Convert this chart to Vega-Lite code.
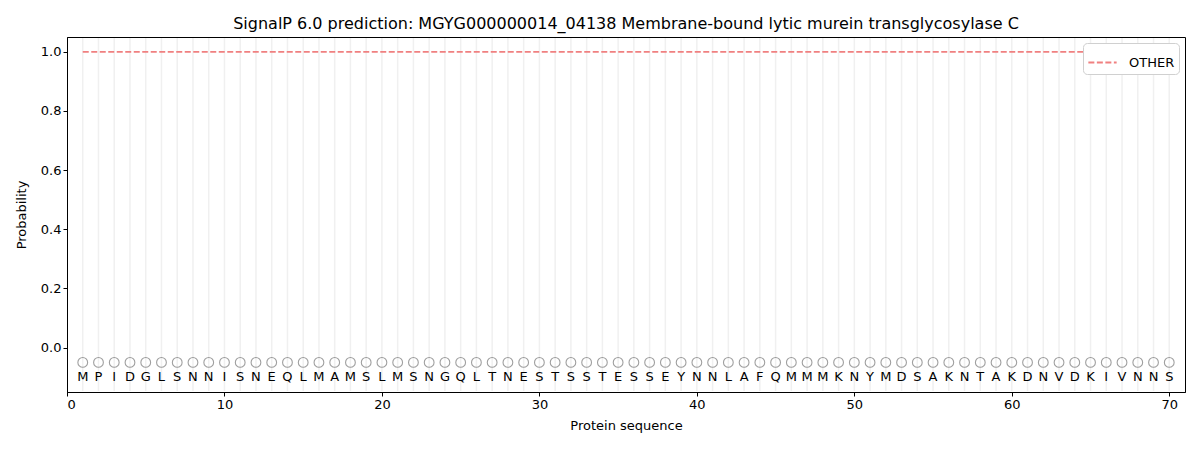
{
  "$schema": "https://vega.github.io/schema/vega-lite/v6.json",
  "autosize": "none",
  "width": 1118,
  "height": 355,
  "padding": {"left": 67, "top": 37, "right": 15, "bottom": 58},
  "title": {
    "text": "SignalP 6.0 prediction: MGYG000000014_04138 Membrane-bound lytic murein transglycosylase C",
    "font": "DejaVu Sans",
    "fontSize": 16,
    "fontWeight": "normal",
    "color": "black",
    "offset": 5
  },
  "data": {
    "values": [
      {"pos": 1, "aa": "M", "other": 1.0}, {"pos": 2, "aa": "P", "other": 1.0},
      {"pos": 3, "aa": "I", "other": 1.0}, {"pos": 4, "aa": "D", "other": 1.0},
      {"pos": 5, "aa": "G", "other": 1.0}, {"pos": 6, "aa": "L", "other": 1.0},
      {"pos": 7, "aa": "S", "other": 1.0}, {"pos": 8, "aa": "N", "other": 1.0},
      {"pos": 9, "aa": "N", "other": 1.0}, {"pos": 10, "aa": "I", "other": 1.0},
      {"pos": 11, "aa": "S", "other": 1.0}, {"pos": 12, "aa": "N", "other": 1.0},
      {"pos": 13, "aa": "E", "other": 1.0}, {"pos": 14, "aa": "Q", "other": 1.0},
      {"pos": 15, "aa": "L", "other": 1.0}, {"pos": 16, "aa": "M", "other": 1.0},
      {"pos": 17, "aa": "A", "other": 1.0}, {"pos": 18, "aa": "M", "other": 1.0},
      {"pos": 19, "aa": "S", "other": 1.0}, {"pos": 20, "aa": "L", "other": 1.0},
      {"pos": 21, "aa": "M", "other": 1.0}, {"pos": 22, "aa": "S", "other": 1.0},
      {"pos": 23, "aa": "N", "other": 1.0}, {"pos": 24, "aa": "G", "other": 1.0},
      {"pos": 25, "aa": "Q", "other": 1.0}, {"pos": 26, "aa": "L", "other": 1.0},
      {"pos": 27, "aa": "T", "other": 1.0}, {"pos": 28, "aa": "N", "other": 1.0},
      {"pos": 29, "aa": "E", "other": 1.0}, {"pos": 30, "aa": "S", "other": 1.0},
      {"pos": 31, "aa": "T", "other": 1.0}, {"pos": 32, "aa": "S", "other": 1.0},
      {"pos": 33, "aa": "S", "other": 1.0}, {"pos": 34, "aa": "T", "other": 1.0},
      {"pos": 35, "aa": "E", "other": 1.0}, {"pos": 36, "aa": "S", "other": 1.0},
      {"pos": 37, "aa": "S", "other": 1.0}, {"pos": 38, "aa": "E", "other": 1.0},
      {"pos": 39, "aa": "Y", "other": 1.0}, {"pos": 40, "aa": "N", "other": 1.0},
      {"pos": 41, "aa": "N", "other": 1.0}, {"pos": 42, "aa": "L", "other": 1.0},
      {"pos": 43, "aa": "A", "other": 1.0}, {"pos": 44, "aa": "F", "other": 1.0},
      {"pos": 45, "aa": "Q", "other": 1.0}, {"pos": 46, "aa": "M", "other": 1.0},
      {"pos": 47, "aa": "M", "other": 1.0}, {"pos": 48, "aa": "M", "other": 1.0},
      {"pos": 49, "aa": "K", "other": 1.0}, {"pos": 50, "aa": "N", "other": 1.0},
      {"pos": 51, "aa": "Y", "other": 1.0}, {"pos": 52, "aa": "M", "other": 1.0},
      {"pos": 53, "aa": "D", "other": 1.0}, {"pos": 54, "aa": "S", "other": 1.0},
      {"pos": 55, "aa": "A", "other": 1.0}, {"pos": 56, "aa": "K", "other": 1.0},
      {"pos": 57, "aa": "N", "other": 1.0}, {"pos": 58, "aa": "T", "other": 1.0},
      {"pos": 59, "aa": "A", "other": 1.0}, {"pos": 60, "aa": "K", "other": 1.0},
      {"pos": 61, "aa": "D", "other": 1.0}, {"pos": 62, "aa": "N", "other": 1.0},
      {"pos": 63, "aa": "V", "other": 1.0}, {"pos": 64, "aa": "D", "other": 1.0},
      {"pos": 65, "aa": "K", "other": 1.0}, {"pos": 66, "aa": "I", "other": 1.0},
      {"pos": 67, "aa": "V", "other": 1.0}, {"pos": 68, "aa": "N", "other": 1.0},
      {"pos": 69, "aa": "N", "other": 1.0}, {"pos": 70, "aa": "S", "other": 1.0}
    ]
  },
  "encoding": {
    "x": {
      "field": "pos",
      "type": "quantitative",
      "scale": {"domain": [0, 71], "nice": false, "zero": false},
      "axis": {"values": [0, 10, 20, 30, 40, 50, 60, 70], "title": "Protein sequence", "grid": false, "titlePadding": 8}
    }
  },
  "layer": [
    {
      "mark": {"type": "rule", "color": "#f0f0f0", "strokeWidth": 1.5},
      "encoding": {
        "y": {"datum": -0.147, "type": "quantitative"},
        "y2": {"datum": 1.047}
      }
    },
    {
      "mark": {"type": "line", "strokeDash": [6, 2.5], "strokeWidth": 1.8},
      "encoding": {
        "y": {
          "field": "other",
          "type": "quantitative",
          "scale": {"domain": [-0.15, 1.05], "nice": false, "zero": false},
          "axis": {"values": [0, 0.2, 0.4, 0.6, 0.8, 1.0], "format": ".1f", "title": "Probability", "grid": false, "titlePadding": 12}
        },
        "color": {
          "datum": "OTHER",
          "type": "nominal",
          "scale": {"range": ["#f08080"]},
          "legend": {"title": null, "orient": "top-right", "symbolDash": [6, 2.5], "symbolStrokeWidth": 1.8}
        }
      }
    },
    {
      "mark": {"type": "point", "shape": "circle", "filled": false, "color": "#777777", "size": 95, "strokeWidth": 1.1},
      "encoding": {"y": {"datum": -0.05, "type": "quantitative"}}
    },
    {
      "mark": {"type": "text", "font": "DejaVu Sans", "fontSize": 13, "color": "black", "baseline": "middle"},
      "encoding": {"y": {"datum": -0.1, "type": "quantitative"}, "text": {"field": "aa"}}
    }
  ],
  "config": {
    "view": {"stroke": "black", "strokeWidth": 1},
    "axis": {
      "labelFont": "DejaVu Sans",
      "titleFont": "DejaVu Sans",
      "labelFontSize": 13,
      "titleFontSize": 13,
      "titleFontWeight": "normal",
      "labelColor": "black",
      "titleColor": "black",
      "domainColor": "black",
      "tickColor": "black",
      "tickSize": 4
    },
    "legend": {
      "labelFont": "DejaVu Sans",
      "labelFontSize": 13,
      "labelColor": "black",
      "labelOffset": 11,
      "strokeColor": "#d0d0d0",
      "fillColor": "white",
      "cornerRadius": 4,
      "padding": 4,
      "offset": 6,
      "symbolSize": 800
    }
  }
}
